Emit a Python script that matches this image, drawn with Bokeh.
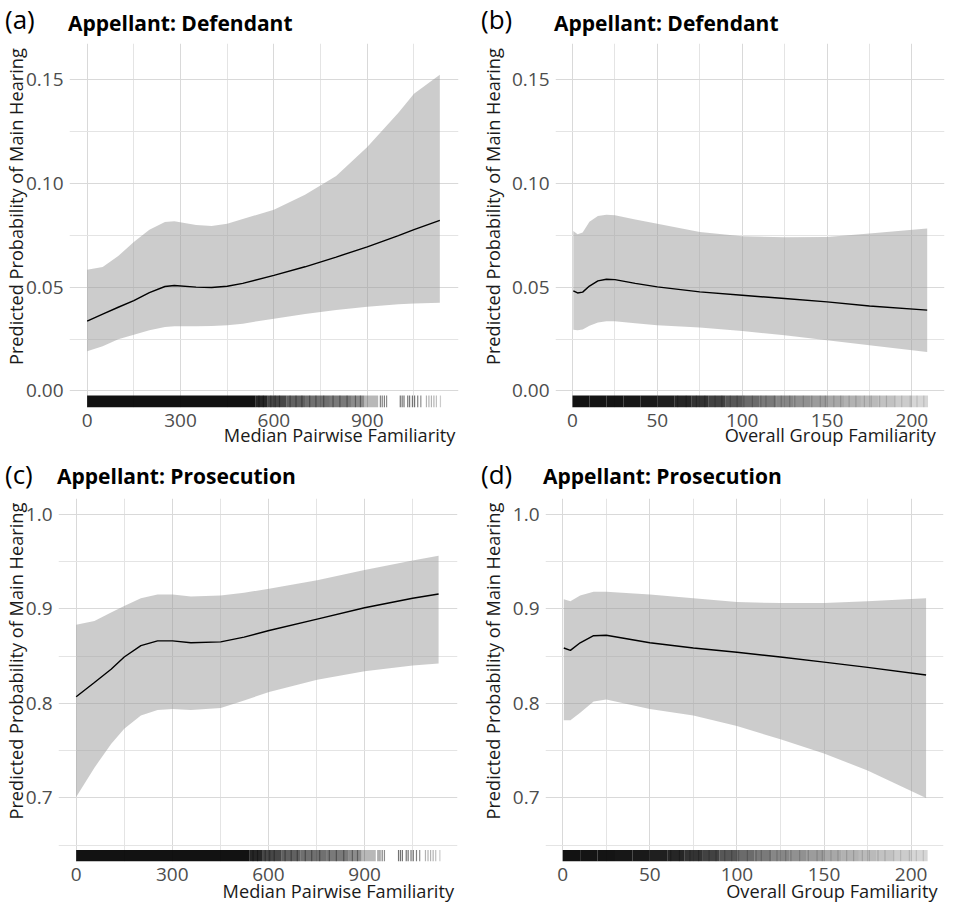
import math
from bokeh.plotting import figure
from bokeh.models import Range1d, FixedTicker, Div
from bokeh.layouts import column, row
from bokeh.embed import file_html
from bokeh.resources import INLINE

FONT = "Open Sans"

# ---------------- data ----------------
# (a) Appellant: Defendant, Median Pairwise Familiarity
a_x = [0, 50, 100, 150, 200, 250, 280, 350, 400, 450, 500, 600, 700, 800, 900, 1000, 1050, 1133]
a_fit = [0.0336, 0.0370, 0.0403, 0.0435, 0.0474, 0.0503, 0.0508, 0.0500, 0.0498, 0.0504, 0.0518,
         0.0557, 0.0598, 0.0645, 0.0694, 0.0748, 0.0777, 0.0822]
a_lo = [0.0191, 0.0215, 0.0249, 0.0271, 0.0292, 0.0308, 0.0311, 0.0311, 0.0313, 0.0316, 0.0324,
        0.0348, 0.0370, 0.0390, 0.0405, 0.0417, 0.0421, 0.0425]
a_hi = [0.0584, 0.0597, 0.0650, 0.0718, 0.0777, 0.0814, 0.0817, 0.0800, 0.0795, 0.0806, 0.0828,
        0.0873, 0.0945, 0.1035, 0.1175, 0.1340, 0.1432, 0.1524]

# (b) Appellant: Defendant, Overall Group Familiarity
b_x = [0.5, 3, 6, 10, 15, 20, 25, 37, 50, 75, 100, 125, 150, 175, 209]
b_fit = [0.0482, 0.0472, 0.0476, 0.0505, 0.0530, 0.0538, 0.0536, 0.0518, 0.0501, 0.0477, 0.0461,
         0.0445, 0.0429, 0.0409, 0.0389]
b_lo = [0.0295, 0.0292, 0.0296, 0.0314, 0.0330, 0.0336, 0.0336, 0.0326, 0.0316, 0.0305, 0.0289,
        0.0268, 0.0244, 0.0220, 0.0188]
b_hi = [0.0771, 0.0755, 0.0763, 0.0815, 0.0843, 0.0849, 0.0846, 0.0826, 0.0806, 0.0766, 0.0745,
        0.0740, 0.0742, 0.0758, 0.0782]

# (c) Appellant: Prosecution, Median Pairwise Familiarity
c_x = [0, 57, 109, 150, 202, 254, 301, 358, 451, 524, 602, 752, 900, 1050, 1131]
c_fit = [0.807, 0.822, 0.836, 0.849, 0.861, 0.866, 0.866, 0.864, 0.865, 0.870, 0.877, 0.889,
         0.901, 0.911, 0.9155]
c_lo = [0.701, 0.732, 0.757, 0.773, 0.787, 0.793, 0.794, 0.793, 0.795, 0.803, 0.812, 0.825,
        0.834, 0.840, 0.842]
c_hi = [0.883, 0.887, 0.896, 0.903, 0.911, 0.915, 0.915, 0.913, 0.914, 0.917, 0.921, 0.930,
        0.941, 0.951, 0.956]

# (d) Appellant: Prosecution, Overall Group Familiarity
d_x = [0.6, 4.4, 10, 17.7, 25, 50, 75, 100, 125, 150, 175, 208.6]
d_fit = [0.8585, 0.856, 0.864, 0.8715, 0.872, 0.864, 0.8585, 0.854, 0.849, 0.8435, 0.838, 0.830]
d_lo = [0.782, 0.782, 0.790, 0.802, 0.804, 0.794, 0.787, 0.776, 0.762, 0.747, 0.729, 0.700]
d_hi = [0.910, 0.908, 0.914, 0.918, 0.918, 0.915, 0.911, 0.907, 0.906, 0.906, 0.908, 0.911]

# rug (observation density) for Median Pairwise Familiarity
med_rug_left = [0, 540, 580, 640, 700, 780, 850, 890]
med_rug_right = [540, 580, 640, 700, 780, 850, 890, 935]
med_rug_alpha = [0.93, 0.85, 0.72, 0.62, 0.56, 0.52, 0.45, 0.28]
med_rug_ticks = [552, 566, 590, 604, 618, 652, 671, 690, 715, 735, 760, 790, 812, 835, 862, 878,
                 942, 948, 955, 962, 1006, 1012, 1018, 1030, 1036, 1045, 1052, 1062, 1072,
                 1090, 1098, 1106, 1114, 1122, 1135]
med_rug_tick_alpha = [0.35, 0.35, 0.35, 0.35, 0.35, 0.35, 0.35, 0.35, 0.35, 0.35, 0.35, 0.35,
                      0.35, 0.35, 0.35, 0.35,
                      0.5, 0.5, 0.5, 0.45, 0.55, 0.55, 0.55, 0.55, 0.55, 0.55, 0.55, 0.5, 0.45,
                      0.3, 0.3, 0.3, 0.3, 0.25, 0.2]

# rug for Overall Group Familiarity
grp_rug_left = [0, 10, 20, 30, 40, 50, 60, 70, 80, 90, 100, 110, 120, 130, 140, 150, 160, 170,
                180, 190, 200]
grp_rug_right = [10, 20, 30, 40, 50, 60, 70, 80, 90, 100, 110, 120, 130, 140, 150, 160, 170, 180,
                 190, 200, 209.5]
grp_rug_alpha = [0.93, 0.92, 0.92, 0.91, 0.9, 0.88, 0.85, 0.8, 0.74, 0.66, 0.58, 0.52, 0.47,
                 0.43, 0.39, 0.34, 0.3, 0.27, 0.24, 0.2, 0.16]
grp_rug_ticks = [62, 67, 73, 78, 84, 88, 93, 97, 101, 106, 111, 114, 119, 123, 128, 131, 136,
                 141, 146, 149, 154, 158, 163, 167, 172, 176, 181, 185, 190, 194, 199, 203, 207]
grp_rug_tick_alpha = [0.25, 0.25, 0.25, 0.25, 0.22, 0.22, 0.22, 0.22, 0.2, 0.2, 0.2, 0.2, 0.18,
                      0.18, 0.18, 0.18, 0.16, 0.16, 0.16, 0.16, 0.15, 0.15, 0.15, 0.15, 0.14,
                      0.14, 0.14, 0.14, 0.12, 0.12, 0.12, 0.12, 0.12]

# axes
med_ticks = [0, 300, 600, 900]
med_minor = [150, 450, 750, 1050]
med_labels = ["0", "300", "600", "900"]
grp_ticks = [0, 50, 100, 150, 200]
grp_minor = [25, 75, 125, 175]
grp_labels = ["0", "50", "100", "150", "200"]
def_yticks = [0.0, 0.05, 0.10, 0.15]
def_yminor = [0.025, 0.075, 0.125]
def_ylabels = ["0.00", "0.05", "0.10", "0.15"]
pro_yticks = [0.7, 0.8, 0.9, 1.0]
pro_yminor = [0.65, 0.75, 0.85, 0.95]
pro_ylabels = ["0.7", "0.8", "0.9", "1.0"]

Y_TITLE = "Predicted Probability of Main Hearing"
NBSP = "\u00a0"

# ---------------- layout (pixels) ----------------
W = 477
SPEC_A = dict(hh=41, ph=412, fl=68, fw=390, fh=364, xr=(-56.6, 1193.0), yr=(-0.008, 0.1674),
              tagx=5, tagb=29, ttlb=32, ysd=-5, xsd=-7, xpad=32, rug_px=12)
SPEC_B = dict(hh=41, ph=412, fl=77, fw=390, fh=364, xr=(-10.0, 219.2), yr=(-0.008, 0.1674),
              tagx=4, tagb=29, ttlb=32, ysd=4, xsd=-7, xpad=34, rug_px=12)
SPEC_C = dict(hh=43, ph=410, fl=57, fw=400, fh=363, xr=(-55.1, 1190.0), yr=(0.6328, 1.0165),
              tagx=5, tagb=31, ttlb=32, ysd=-5, xsd=-5, xpad=34, rug_px=11.5)
SPEC_D = dict(hh=43, ph=410, fl=66, fw=400, fh=363, xr=(-9.9, 218.6), yr=(0.6328, 1.0165),
              tagx=4, tagb=31, ttlb=32, ysd=5, xsd=-5, xpad=37, rug_px=11.5)
TOP_GAP = 2
TAG_PX, TTL_PX = 26, 21
ASC = 0.888  # baseline offset (em) inside a line-height:1 box for Open Sans


def header(spec, tag, title):
    h = spec["hh"]
    t1 = spec["tagb"] - ASC * TAG_PX
    t2 = spec["ttlb"] - ASC * TTL_PX
    html = (
        f'<div style="position:relative;width:{W}px;height:{h}px;overflow:hidden;margin:0;padding:0;">'
        f'<span style="position:absolute;left:{spec["tagx"]}px;top:{t1:.1f}px;'
        f"font-family:'Open Sans';font-size:{TAG_PX}px;font-weight:normal;line-height:1;"
        f'color:#000;white-space:nowrap;">{tag}</span>'
        f'<span style="position:absolute;left:{spec["fl"]}px;top:{t2:.1f}px;'
        f"font-family:'Open Sans';font-size:{TTL_PX}px;font-weight:bold;line-height:1;"
        f'color:#000;white-space:nowrap;">{title}</span></div>'
    )
    return Div(text=html, width=W, height=h, margin=0)


def panel(spec, xs, fit, lo, hi, xticks, xminor, xlabels, yticks, yminor, ylabels,
          rug, xtitle):
    p = figure(width=W, height=spec["ph"],
               x_range=Range1d(*spec["xr"]), y_range=Range1d(*spec["yr"]),
               min_border_left=spec["fl"], min_border_top=TOP_GAP,
               min_border_right=W - spec["fl"] - spec["fw"],
               min_border_bottom=spec["ph"] - TOP_GAP - spec["fh"],
               output_backend="svg", toolbar_location=None)
    p.title.visible = False
    p.outline_line_color = None
    p.background_fill_color = "white"
    p.border_fill_color = "white"

    p.xaxis.ticker = FixedTicker(ticks=xticks, minor_ticks=xminor)
    p.yaxis.ticker = FixedTicker(ticks=yticks, minor_ticks=yminor)
    p.xaxis.major_label_overrides = {t: l for t, l in zip(xticks, xlabels)}
    p.yaxis.major_label_overrides = {t: l for t, l in zip(yticks, ylabels)}
    for ax in (p.xaxis, p.yaxis):
        ax.axis_line_color = None
        ax.major_tick_line_color = None
        ax.minor_tick_line_color = None
        ax.major_tick_out = 0
        ax.major_tick_in = 0
        ax.minor_tick_out = 0
        ax.minor_tick_in = 0
        ax.major_label_text_font = FONT
        ax.major_label_text_font_size = "19px"
        ax.major_label_text_color = "#4d4d4d"
        ax.axis_label_text_font = FONT
        ax.axis_label_text_font_size = "18.2px"
        ax.axis_label_text_font_style = "normal"
        ax.axis_label_text_color = "#1a1a1a"
    p.xaxis.major_label_standoff = 6
    p.yaxis.major_label_standoff = 6
    # leading no-break spaces shift the centred axis titles to where the reference has them
    p.yaxis.axis_label = NBSP * 8 + Y_TITLE
    p.yaxis.axis_label_standoff = spec["ysd"]
    p.xaxis.axis_label = NBSP * spec["xpad"] + xtitle
    p.xaxis.axis_label_standoff = spec["xsd"]

    for g in (p.xgrid, p.ygrid):
        g.grid_line_color = "#d9d9d9"
        g.grid_line_width = 1
        g.minor_grid_line_color = "#e4e4e4"
        g.minor_grid_line_width = 1

    # ribbon + fitted line
    p.varea(x=xs, y1=lo, y2=hi, fill_color="#999999", fill_alpha=0.5)
    p.line(x=xs, y=fit, line_color="black", line_width=1.4)

    # rug
    y0 = spec["yr"][0]
    ppu = spec["fh"] / (spec["yr"][1] - spec["yr"][0])
    ytop = y0 + spec["rug_px"] / ppu
    left, right, alpha = rug[0], rug[1], rug[2]
    p.quad(left=left, right=right, bottom=[y0] * len(left), top=[ytop] * len(left),
           fill_color="black", fill_alpha=alpha, line_color=None)
    if len(rug) > 3:
        ticks, talpha = rug[3], rug[4]
        p.segment(x0=ticks, x1=ticks, y0=[y0] * len(ticks), y1=[ytop] * len(ticks),
                  line_color="black", line_alpha=talpha, line_width=1.2)
    return p


med_rug = (med_rug_left, med_rug_right, med_rug_alpha, med_rug_ticks, med_rug_tick_alpha)
grp_rug = (grp_rug_left, grp_rug_right, grp_rug_alpha, grp_rug_ticks, grp_rug_tick_alpha)

pa = column(header(SPEC_A, "(a)", "Appellant: Defendant"),
            panel(SPEC_A, a_x, a_fit, a_lo, a_hi, med_ticks, med_minor, med_labels,
                  def_yticks, def_yminor, def_ylabels, med_rug, "Median Pairwise Familiarity"))
pb = column(header(SPEC_B, "(b)", "Appellant: Defendant"),
            panel(SPEC_B, b_x, b_fit, b_lo, b_hi, grp_ticks, grp_minor, grp_labels,
                  def_yticks, def_yminor, def_ylabels, grp_rug, "Overall Group Familiarity"))
pc = column(header(SPEC_C, "(c)", "Appellant: Prosecution"),
            panel(SPEC_C, c_x, c_fit, c_lo, c_hi, med_ticks, med_minor, med_labels,
                  pro_yticks, pro_yminor, pro_ylabels, med_rug, "Median Pairwise Familiarity"))
pd_ = column(header(SPEC_D, "(d)", "Appellant: Prosecution"),
             panel(SPEC_D, d_x, d_fit, d_lo, d_hi, grp_ticks, grp_minor, grp_labels,
                   pro_yticks, pro_yminor, pro_ylabels, grp_rug, "Overall Group Familiarity"))

layout = column(row(pa, pb), row(pc, pd_))

open("out.html", "w").write(file_html(layout, INLINE))
